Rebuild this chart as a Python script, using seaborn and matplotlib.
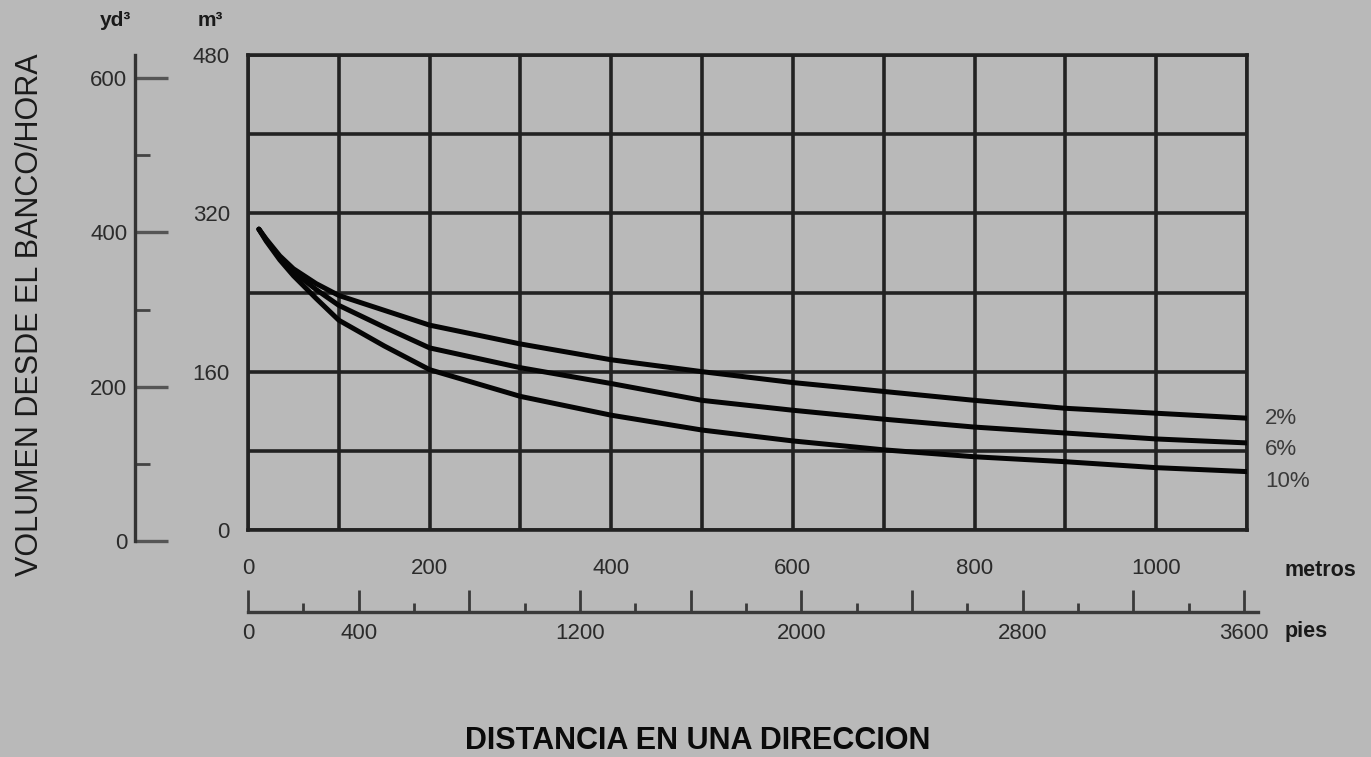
import matplotlib
matplotlib.use("Agg")
import matplotlib.pyplot as plt
import seaborn as sns
import pandas as pd
from matplotlib.ticker import FixedLocator, MultipleLocator

# ---------------- data ----------------
distancia_m = [12, 20, 35, 50, 75, 100, 150, 200, 300, 400, 500, 600, 700, 800, 900, 1000, 1100]
pend_2 = [304, 294, 277, 264, 249, 237, 222, 207, 188, 172, 160, 149, 140, 131, 123, 118, 113]
pend_6 = [304, 293, 275, 261, 243, 227, 205, 184, 164, 148, 131, 121, 112, 104, 98, 92, 88]
pend_10 = [304, 292, 273, 257, 234, 212, 186, 162, 135, 116, 101, 90, 81, 74, 69, 63, 59]
pendientes = ["2%", "6%", "10%"]

m3_labels = [0, 160, 320, 480]
yd3_labels = [0, 200, 400, 600]
yd3_minor = [100, 300, 500]
metros_labels = [0, 200, 400, 600, 800, 1000]
pies_labels = [0, 400, 1200, 2000, 2800, 3600]

# ---------------- style ----------------
BG = "#b9b9b9"
DARK = "#222222"
TXT = "#2b2b2b"
sns.set_theme(style="white")
plt.rcParams["font.family"] = ["Liberation Sans", "DejaVu Sans"]
plt.rcParams["axes.facecolor"] = BG
plt.rcParams["figure.facecolor"] = BG

W, H = 1371, 757
fig = plt.figure(figsize=(W / 100, H / 100), dpi=100)


def fx(px):
    return px / W


def fy(py):
    return 1 - py / H


# ---------------- main axes (m3 vs metros) ----------------
ax = fig.add_axes([fx(248), fy(530), fx(1247) - fx(248), fy(55) - fy(530)])
ax.set_facecolor(BG)

n = len(distancia_m)
df = pd.DataFrame({
    "dist": distancia_m * 3,
    "vol": pend_2 + pend_6 + pend_10,
    "pend": [pendientes[0]] * n + [pendientes[1]] * n + [pendientes[2]] * n,
})
sns.lineplot(data=df, x="dist", y="vol", hue="pend", units="pend", estimator=None,
             palette={p: "#050505" for p in pendientes}, lw=3.6, legend=False,
             ax=ax, solid_capstyle="round", solid_joinstyle="round", zorder=5)

ax.set_xlim(0, 1100)
ax.set_ylim(0, 480)
ax.xaxis.set_major_locator(MultipleLocator(100))
ax.set_xticklabels([])
ax.set_yticks(list(range(0, 481, 80)))
ax.set_yticklabels([str(v) if v in m3_labels else "" for v in range(0, 481, 80)])
ax.tick_params(axis="both", length=0)
ax.tick_params(axis="y", pad=13, labelsize=16, labelcolor=TXT)
ax.grid(True, color=DARK, lw=2.6)
ax.set_axisbelow(True)
for s in ax.spines.values():
    s.set_color(DARK)
    s.set_linewidth(2.6)
ax.set_xlabel("")
ax.set_ylabel("")

last = [pend_2[-1], pend_6[-1], pend_10[-1]]
offs = [0, -7, -10]
for lab, yv, o in zip(pendientes, last, offs):
    ax.annotate(lab, xy=(1100, yv), xytext=(18, o), textcoords="offset pixels",
                ha="left", va="center", fontsize=16, color="#3a3a3a",
                annotation_clip=False)

# ---------------- yd3 axis ----------------
ay = fig.add_axes([fx(135), fy(541), 0.0008, fy(55) - fy(541)])
ay.set_facecolor("none")
ay.set_ylim(0, 600 * 486 / 463)
ay.set_xticks([])
ay.yaxis.set_major_locator(FixedLocator(yd3_labels))
ay.yaxis.set_minor_locator(FixedLocator(yd3_minor))
ay.set_yticklabels([str(v) for v in yd3_labels])
ay.tick_params(axis="y", which="both", left=True, right=False)
ay.tick_params(axis="y", which="major", direction="in", length=23.5, width=2.4,
               color="#555555", pad=5.5, labelsize=16, labelcolor=TXT)
ay.tick_params(axis="y", which="minor", direction="in", length=11, width=2,
               color="#444444")
for k in ["top", "right", "bottom"]:
    ay.spines[k].set_visible(False)
ay.spines["left"].set_color("#333333")
ay.spines["left"].set_linewidth(2.4)

# ---------------- bottom scale (pies / metros) ----------------
ft_max = 3600 * (1258 - 248) / (1244 - 248)
ab = fig.add_axes([fx(248), fy(612), fx(1258) - fx(248), fy(582) - fy(612)])
ab.set_facecolor("none")
ab.set_xlim(0, ft_max)
ab.set_yticks([])
ab.xaxis.set_major_locator(FixedLocator(list(range(0, 3601, 400))))
ab.xaxis.set_minor_locator(FixedLocator(list(range(200, 3601, 400))))
ab.set_xticklabels([str(v) if v in pies_labels else "" for v in range(0, 3601, 400)])
ab.tick_params(axis="x", which="both", bottom=True, top=False)
ab.tick_params(axis="x", which="major", direction="in", length=16, width=2,
               color="#3a3a3a", pad=8, labelsize=16, labelcolor=TXT)
ab.tick_params(axis="x", which="minor", direction="in", length=6.5, width=2,
               color="#3a3a3a")
for k in ["top", "right", "left"]:
    ab.spines[k].set_visible(False)
ab.spines["bottom"].set_color("#3a3a3a")
ab.spines["bottom"].set_linewidth(2.4)

at = ab.twiny()
at.set_xlim(0, ft_max * 0.3048)
at.set_xticks(metros_labels)
at.set_xticklabels([str(v) for v in metros_labels])
at.tick_params(axis="x", length=0, pad=2, labelsize=16, labelcolor=TXT)
for s in at.spines.values():
    s.set_visible(False)

# ---------------- texts ----------------
fig.text(fx(1285), fy(570), "metros", ha="left", va="center", fontsize=15.5,
         fontweight="bold", color="#1a1a1a")
fig.text(fx(1285), fy(631), "pies", ha="left", va="center", fontsize=15.5,
         fontweight="bold", color="#1a1a1a")
fig.text(fx(115), fy(20), "yd³", ha="center", va="center", fontsize=15,
         fontweight="bold", color="#1a1a1a")
fig.text(fx(210), fy(20), "m³", ha="center", va="center", fontsize=15,
         fontweight="bold", color="#1a1a1a")
fig.text(fx(30), fy(315), "VOLUMEN DESDE EL BANCO/HORA", rotation=90,
         ha="center", va="center", fontsize=22, color="#1a1a1a")
fig.text(fx(698), fy(741), "DISTANCIA EN UNA DIRECCION", ha="center", va="center",
         fontsize=22, fontweight="bold", color="#0a0a0a")

fig.savefig("out.png", dpi=100, facecolor=BG)
